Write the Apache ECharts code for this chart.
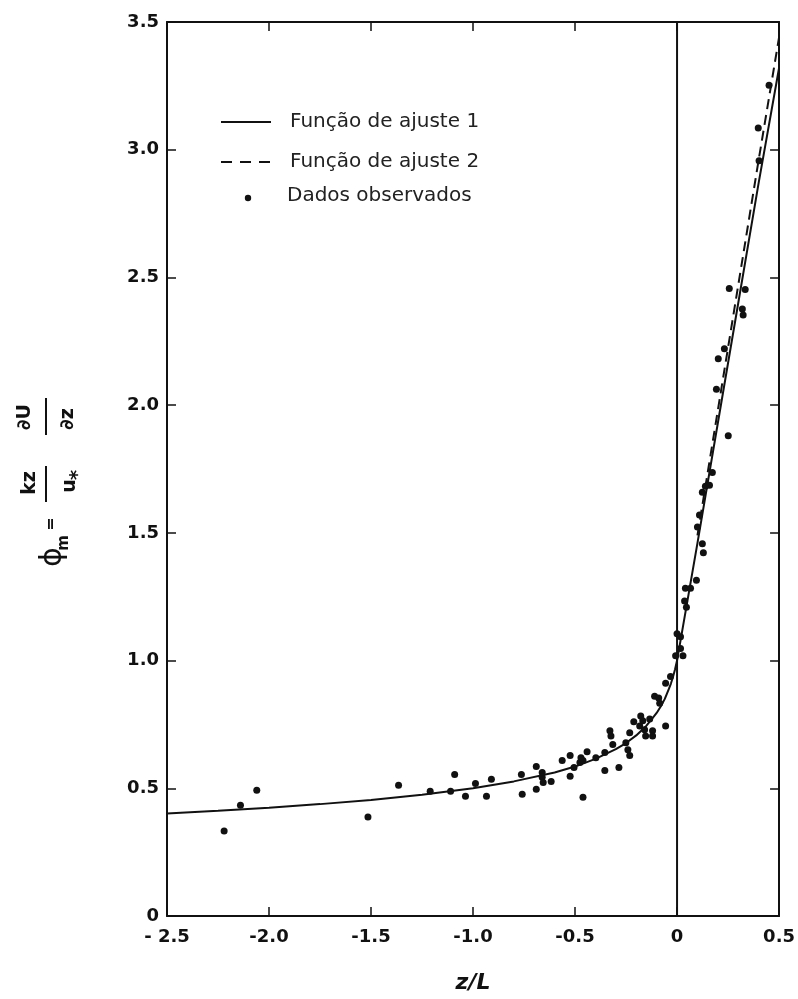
<!DOCTYPE html>
<html>
<head>
<meta charset="utf-8">
<script src="https://cdn.jsdelivr.net/npm/echarts@6/dist/echarts.min.js"></script>
<style>
  html, body { margin: 0; padding: 0; background: #fff; }
  #chart { width: 798px; height: 999px; }
</style>
</head>
<body>
<div id="chart"></div>
<script>
// Stability parameter z/L and fitted profile functions
const fit1X = [-2.5, -2.25, -2.0, -1.75, -1.5, -1.25, -1.0, -0.8, -0.6, -0.5, -0.4, -0.3, -0.25, -0.2, -0.15, -0.12, -0.1, -0.08, -0.06, -0.04, -0.03, -0.02, -0.01, 0, 0.1, 0.2, 0.3, 0.4, 0.5];
const fit1Y = [0.401, 0.412, 0.424, 0.438, 0.454, 0.475, 0.50, 0.527, 0.562, 0.585, 0.615, 0.653, 0.677, 0.707, 0.745, 0.775, 0.795, 0.82, 0.85, 0.889, 0.91, 0.936, 0.965, 1.0, 1.46, 1.93, 2.40, 2.87, 3.32];
const fit2X = [0.1, 0.2, 0.3, 0.4, 0.5];
const fit2Y = [1.49, 1.98, 2.47, 2.96, 3.44];

// Observed values
const obsX = [-2.22, -2.14, -2.06, -1.515, -1.365, -1.21, -1.11, -1.09, -1.037, -0.988,
  -0.934, -0.91, -0.763, -0.759, -0.69, -0.69, -0.661, -0.661, -0.656, -0.617,
  -0.563, -0.524, -0.524, -0.505, -0.476, -0.471, -0.461, -0.461, -0.441, -0.398,
  -0.354, -0.354, -0.329, -0.324, -0.315, -0.285, -0.251, -0.241, -0.232, -0.232,
  -0.212, -0.183, -0.178, -0.168, -0.159, -0.154, -0.134, -0.12, -0.12, -0.11,
  -0.09, -0.085, -0.056, -0.056, -0.032, -0.007, 0.0, 0.017, 0.017, 0.029,
  0.037, 0.041, 0.046, 0.066, 0.095, 0.1, 0.11, 0.124, 0.124, 0.129,
  0.139, 0.159, 0.173, 0.193, 0.251, 0.202, 0.232, 0.256, 0.334, 0.32,
  0.324, 0.402, 0.398, 0.451];
const obsY = [0.333, 0.434, 0.492, 0.388, 0.512, 0.488, 0.488, 0.554, 0.469, 0.519,
  0.469, 0.535, 0.554, 0.477, 0.585, 0.496, 0.562, 0.543, 0.523, 0.527,
  0.609, 0.628, 0.547, 0.581, 0.601, 0.62, 0.609, 0.465, 0.643, 0.62,
  0.64, 0.57, 0.725, 0.705, 0.671, 0.581, 0.678, 0.651, 0.628, 0.717,
  0.76, 0.744, 0.783, 0.764, 0.729, 0.705, 0.771, 0.725, 0.705, 0.86,
  0.853, 0.833, 0.744, 0.911, 0.938, 1.019, 1.105, 1.093, 1.047, 1.019,
  1.233, 1.283, 1.209, 1.283, 1.314, 1.523, 1.57, 1.659, 1.457, 1.422,
  1.682, 1.686, 1.736, 2.062, 1.88, 2.182, 2.221, 2.457, 2.453, 2.376,
  2.353, 2.957, 3.085, 3.252];

// Neutral reference line z/L = 0
const neutralX = [0, 0];
const neutralY = [0, 3.5];

// Axis tick labels
const xTickLabels = { '-2.5': '- 2.5', '-2': '-2.0', '-1.5': '-1.5', '-1': '-1.0', '-0.5': '-0.5', '0': '0', '0.5': '0.5' };
const yTickLabels = { '0': '0', '0.5': '0.5', '1': '1.0', '1.5': '1.5', '2': '2.0', '2.5': '2.5', '3': '3.0', '3.5': '3.5' };

const legendNames = ['Função de ajuste 1', 'Função de ajuste 2', 'Dados observados'];

const zip = (xs, ys) => xs.map((x, i) => [x, ys[i]]);

const INK = '#111';
const labelFont = { color: INK, fontFamily: 'DejaVu Sans', fontWeight: 'bold', fontSize: 18 };

const frameAxis = (extra) => Object.assign({
  type: 'value',
  axisLine: { show: true, onZero: false, lineStyle: { color: INK, width: 2 } },
  axisTick: { show: true, inside: true, length: 9, lineStyle: { color: INK, width: 1.5 } },
  splitLine: { show: false },
  axisLabel: { show: false }
}, extra);

const chart = echarts.init(document.getElementById('chart'), null, { renderer: 'canvas' });

// Axis title phi_m = (kz/u*) dU/dz, laid out along a rotated group
const T = (text, x, y, size, extra) => ({
  type: 'text', x: x, y: y,
  style: Object.assign({ text: text, fill: INK, fontFamily: 'DejaVu Sans', fontWeight: 'bold', fontSize: size, align: 'center', verticalAlign: 'middle' }, extra || {})
});
const L = (x1, y1, x2, y2, w) => ({
  type: 'line', shape: { x1: x1, y1: y1, x2: x2, y2: y2 }, style: { stroke: INK, lineWidth: w || 2 }
});

const yTitle = {
  type: 'group', x: 46, y: 570, rotation: Math.PI / 2,
  children: [
    T('ϕ', 13, 7, 30, { fontWeight: 'normal' }),
    T('m', 27, 18, 15),
    T('=', 46, 5, 16),
    L(68, 0, 104, 0, 2),
    T('kz', 87, -16, 19),
    T('u', 84, 24, 19),
    T('*', 95, 32, 20),
    L(135, 0, 172, 0, 2),
    T('∂U', 153, -21, 19),
    T('∂z', 151, 22, 19)
  ]
};

// Legend drawn as plain graphics
const legendGraphics = [
  L(221, 122, 271, 122, 2),
  { type: 'line', shape: { x1: 221, y1: 162, x2: 271, y2: 162 }, style: { stroke: INK, lineWidth: 2, lineDash: [11, 8] } },
  { type: 'circle', shape: { cx: 248, cy: 198, r: 3.2 }, style: { fill: INK } },
  T(legendNames[0], 290, 122, 20, { align: 'left', fontWeight: 'normal', fill: '#222' }),
  T(legendNames[1], 290, 162, 20, { align: 'left', fontWeight: 'normal', fill: '#222' }),
  T(legendNames[2], 287, 196, 20, { align: 'left', fontWeight: 'normal', fill: '#222' })
];

chart.setOption({
  animation: false,
  backgroundColor: '#fff',
  grid: { left: 167, right: 16, top: 22, bottom: 74 },
  xAxis: [
    frameAxis({
      min: -2.5, max: 0.5, interval: 0.5, position: 'bottom',
      axisLabel: Object.assign({ show: true, margin: 12, formatter: v => xTickLabels[String(v)] }, labelFont),
      name: 'z/L', nameLocation: 'middle', nameGap: 56,
      nameTextStyle: { color: INK, fontFamily: 'DejaVu Sans', fontWeight: 'bold', fontStyle: 'italic', fontSize: 22 }
    }),
    frameAxis({ min: -2.5, max: 0.5, interval: 0.5, position: 'top' })
  ],
  yAxis: [
    frameAxis({
      min: 0, max: 3.5, interval: 0.5, position: 'left',
      axisLabel: Object.assign({ show: true, margin: 8, formatter: v => yTickLabels[String(v)] }, labelFont)
    }),
    frameAxis({ min: 0, max: 3.5, interval: 0.5, position: 'right' })
  ],
  graphic: [yTitle].concat(legendGraphics),
  series: [
    {
      name: 'z/L = 0', type: 'line', data: zip(neutralX, neutralY),
      symbol: 'none', lineStyle: { color: INK, width: 2 }, z: 1
    },
    {
      name: legendNames[0], type: 'line', data: zip(fit1X, fit1Y),
      symbol: 'none', smooth: false, lineStyle: { color: INK, width: 2 }, z: 2
    },
    {
      name: legendNames[1], type: 'line', data: zip(fit2X, fit2Y),
      symbol: 'none', lineStyle: { color: INK, width: 2, type: [10, 6] }, z: 2
    },
    {
      name: legendNames[2], type: 'scatter', data: zip(obsX, obsY),
      symbol: 'circle', symbolSize: 7, itemStyle: { color: INK, opacity: 1 }, z: 3
    }
  ]
});
</script>
</body>
</html>
